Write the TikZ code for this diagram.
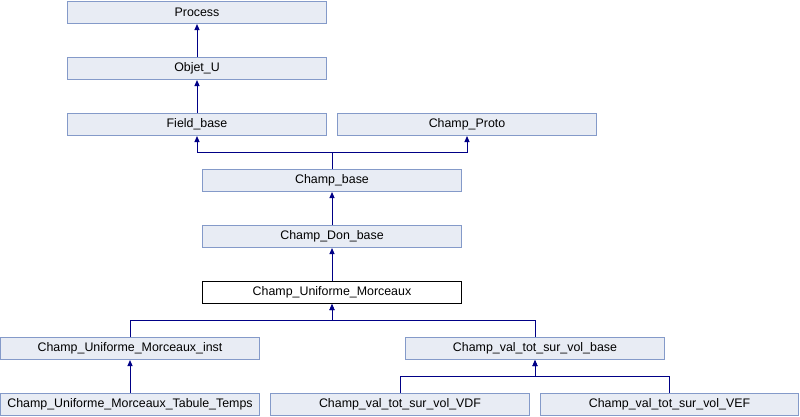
\documentclass[tikz,border=0pt]{standalone}
\usepackage{fontspec}
\setmainfont{Liberation Sans}
\usetikzlibrary{arrows.meta}
\definecolor{boxfill}{RGB}{232,236,244}
\definecolor{boxline}{RGB}{132,154,201}
\definecolor{edge}{RGB}{0,0,134}
\begin{document}
\begin{tikzpicture}[x=1pt,y=-1pt,
  cls/.style={draw=boxline,fill=boxfill,line width=1pt,minimum width=259pt,minimum height=22pt,inner sep=0pt,
    font=\fontsize{12.4}{14}\selectfont},
  cur/.style={cls,draw=black,fill=white},
  inh/.style={draw=edge,line width=1pt,-{Triangle[width=5pt,length=6pt]}}]
\useasboundingbox (0,0) rectangle (800,416);
\node[cls] (process) at (197,12.5) {Process};
\node[cls] (objet) at (197,68.5) {Objet\_U};
\node[cls] (field) at (197,124.5) {Field\_base};
\node[cls] (proto) at (467,124.5) {Champ\_Proto};
\node[cls] (cbase) at (332,180.5) {Champ\_base};
\node[cls] (cdon) at (332,236.5) {Champ\_Don\_base};
\node[cur] (cum) at (332,292.5) {Champ\_Uniforme\_Morceaux};
\node[cls] (inst) at (130,348.5) {Champ\_Uniforme\_Morceaux\_inst};
\node[cls] (vbase) at (535,348.5) {Champ\_val\_tot\_sur\_vol\_base};
\node[cls] (tab) at (130,404.5) {Champ\_Uniforme\_Morceaux\_Tabule\_Temps};
\node[cls] (vdf) at (400,404.5) {Champ\_val\_tot\_sur\_vol\_VDF};
\node[cls,minimum width=258pt] (vef) at (669.5,404.5) {Champ\_val\_tot\_sur\_vol\_VEF};
\draw[inh] (objet.north) -- (process.south);
\draw[inh] (field.north) -- (objet.south);
\draw[inh] (cbase.north) -- ++(0,-16.5) -| (field.south);
\draw[inh] (cbase.north) -- ++(0,-16.5) -| (proto.south);
\draw[inh] (cdon.north) -- (cbase.south);
\draw[inh] (cum.north) -- (cdon.south);
\draw[inh] (inst.north) -- ++(0,-16.5) -| (cum.south);
\draw[inh] (vbase.north) -- ++(0,-16.5) -| (cum.south);
\draw[inh] (tab.north) -- (inst.south);
\draw[inh] (vdf.north) -- ++(0,-16.5) -| (vbase.south);
\draw[inh] (vef.north) -- ++(0,-16.5) -| (vbase.south);
\end{tikzpicture}
\end{document}
